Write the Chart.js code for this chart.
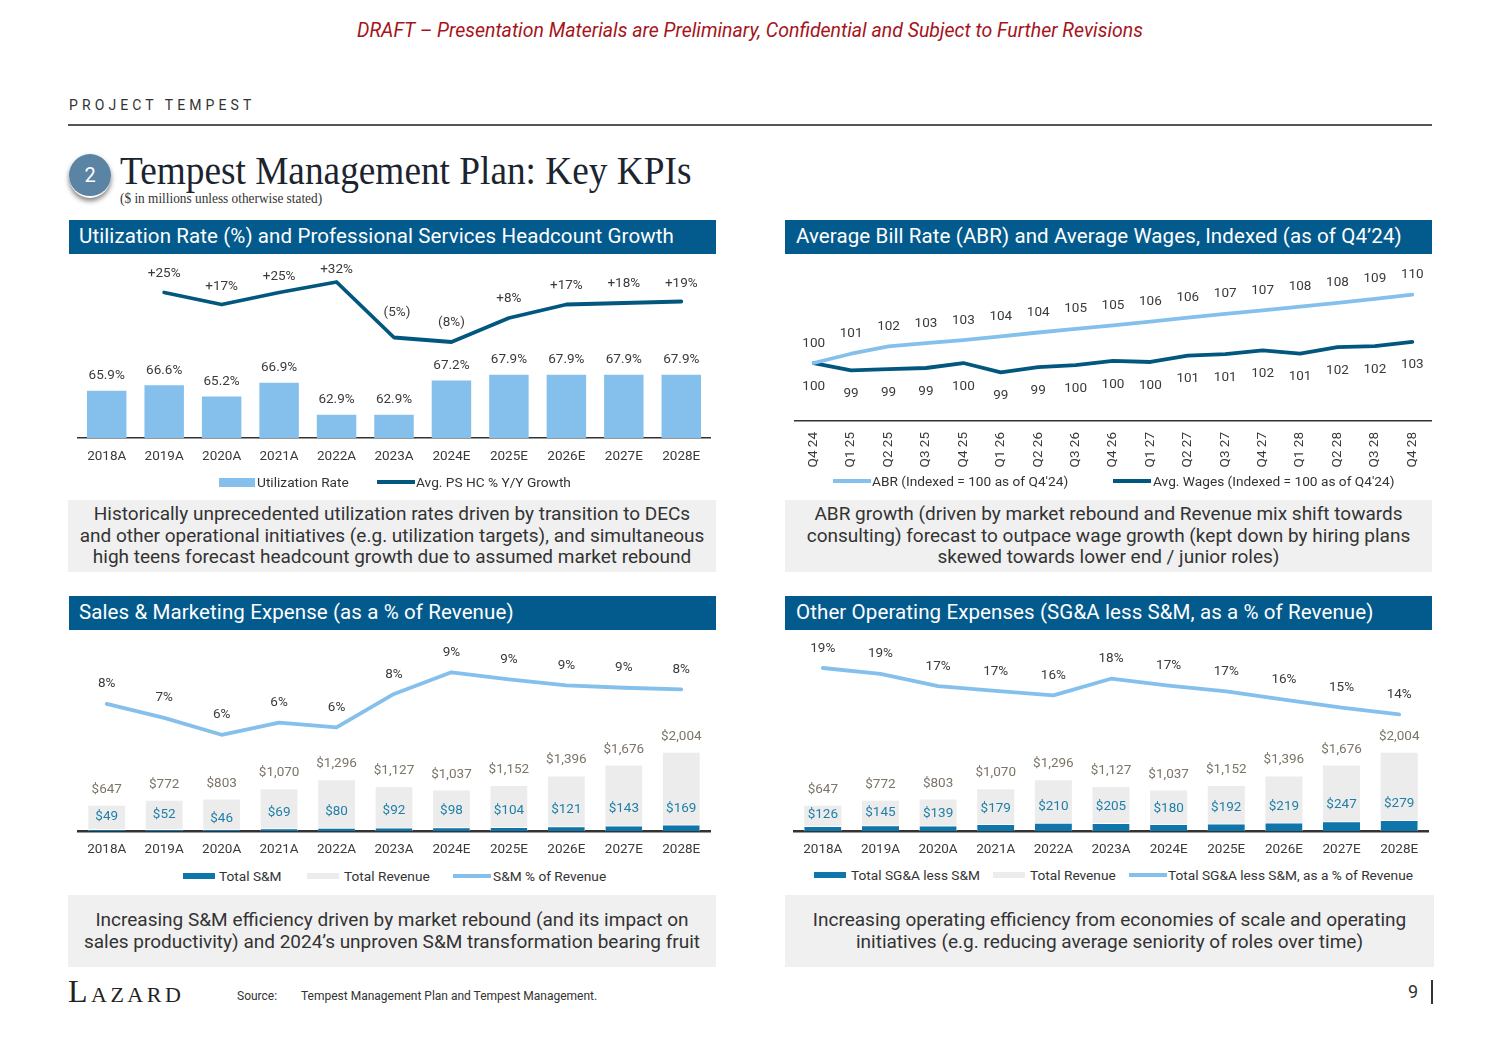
<!DOCTYPE html>
<html>
<head>
<meta charset="utf-8">
<title>Tempest Management Plan: Key KPIs</title>
<script src="https://cdn.jsdelivr.net/npm/chart.js@4"></script>
<style>
    html, body { margin: 0; padding: 0; background: #fff; }
    #page { position: relative; width: 1500px; height: 1060px; overflow: hidden; font-family: Roboto, sans-serif; color: #333; }
    #page > * { position: absolute; }
    canvas { position: absolute; }
    .draft { left: 0; width: 1500px; top: 19px; text-align: center; font-style: italic; font-size: 19.5px; color: #a5141c; }
    .project { left: 69px; top: 97px; font-size: 14px; letter-spacing: 4.1px; color: #333; }
    .rule { left: 68px; top: 124px; width: 1364px; height: 1.5px; background: #555; }
    .badge { left: 69px; top: 154px; width: 42px; height: 42px; border-radius: 50%; background: #5b83a3; border-bottom: 2px solid #fff; box-shadow: 0 3px 5px rgba(0,0,0,.5); color: #fff; font-size: 20px; line-height: 42px; text-align: center; }
    .title { left: 120px; top: 146px; font-family: "Liberation Serif", serif; font-size: 41px; color: #1c2430; white-space: nowrap; transform: scaleX(.91); transform-origin: left; }
    .sub { left: 120px; top: 191px; font-family: "Liberation Serif", serif; font-size: 14px; color: #333; white-space: nowrap; transform: scaleX(.95); transform-origin: left; }
    .head { height: 34px; line-height: 33px; background: #035a8d; color: #fff; font-size: 20.5px; letter-spacing: .1px; padding-left: 10px; box-sizing: border-box; white-space: nowrap; }
    .cap { background: #f0f0f0; text-align: center; font-size: 19px; line-height: 21.5px; box-sizing: border-box; color: #333; }
    .lg { font-size: 13.7px; white-space: nowrap; color: #333; height: 16px; line-height: 16px; }
    .sw { height: 9px; }
    .logo { left: 68px; top: 973px; font-family: "Liberation Serif", serif; font-size: 32px; font-variant: small-caps; letter-spacing: 3.5px; color: #222; }
    .src { font-size: 12px; color: #333; top: 989px; white-space: nowrap; }
    .num { left: 1408px; top: 981px; font-size: 18px; color: #333; }
    .bar9 { left: 1431px; top: 980px; width: 1.5px; height: 24px; background: #333; }
</style>
</head>
<body>
<div id="page">
    <div class="draft">DRAFT – Presentation Materials are Preliminary, Confidential and Subject to Further Revisions</div>
    <div class="project">PROJECT TEMPEST</div>
    <div class="rule"></div>
    <div class="badge">2</div>
    <div class="title">Tempest Management Plan: Key KPIs</div>
    <div class="sub">($ in millions unless otherwise stated)</div>

    <div class="head" style="left:69px;top:220px;width:647px">Utilization Rate (%) and Professional Services Headcount Growth</div>
    <div class="head" style="left:785px;top:220px;width:647px;padding-left:11px">Average Bill Rate (ABR) and Average Wages, Indexed (as of Q4’24)</div>
    <div class="head" style="left:69px;top:596px;width:647px">Sales &amp; Marketing Expense (as a % of Revenue)</div>
    <div class="head" style="left:785px;top:596px;width:647px;padding-left:11px">Other Operating Expenses (SG&amp;A less S&amp;M, as a % of Revenue)</div>

    <canvas id="utilChart" width="652" height="244" style="left:68px;top:256px"></canvas>
    <canvas id="abrChart" width="652" height="219" style="left:784px;top:256px"></canvas>
    <canvas id="smChart" width="652" height="230" style="left:68px;top:632px"></canvas>
    <canvas id="sgaChart" width="652" height="230" style="left:784px;top:632px"></canvas>

    <div class="cap" style="left:68px;top:500px;width:648px;height:72px;padding-top:3px">Historically unprecedented utilization rates driven by transition to DECs<br>and other operational initiatives (e.g. utilization targets), and simultaneous<br>high teens forecast headcount growth due to assumed market rebound</div>
    <div class="cap" style="left:785px;top:500px;width:647px;height:72px;padding-top:3px">ABR growth (driven by market rebound and Revenue mix shift towards<br>consulting) forecast to outpace wage growth (kept down by hiring plans<br>skewed towards lower end / junior roles)</div>
    <div class="cap" style="left:68px;top:895px;width:648px;height:72px;padding-top:14px">Increasing S&amp;M efficiency driven by market rebound (and its impact on<br>sales productivity) and 2024’s unproven S&amp;M transformation bearing fruit</div>
    <div class="cap" style="left:785px;top:895px;width:649px;height:72px;padding-top:14px">Increasing operating efficiency from economies of scale and operating<br>initiatives (e.g. reducing average seniority of roles over time)</div>

    <div class="logo">Lazard</div>
    <div class="src" style="left:237px">Source:</div>
    <div class="src" style="left:301px">Tempest Management Plan and Tempest Management.</div>
    <div class="num">9</div>
    <div class="bar9"></div>
</div>

<script>
// Categories
const years = ["2018A", "2019A", "2020A", "2021A", "2022A", "2023A", "2024E", "2025E", "2026E", "2027E", "2028E"];
const quarters = ["Q4 24", "Q1 25", "Q2 25", "Q3 25", "Q4 25", "Q1 26", "Q2 26", "Q3 26", "Q4 26", "Q1 27", "Q2 27", "Q3 27", "Q4 27", "Q1 28", "Q2 28", "Q3 28", "Q4 28"];

// Utilization chart
const utilizationRate = [65.9, 66.6, 65.2, 66.9, 62.9, 62.9, 67.2, 67.9, 67.9, 67.9, 67.9];
const headcountGrowth = [null, 25, 17, 25, 32, -5, -8, 8, 17, 18, 19];
const headcountLabels = ["", "+25%", "+17%", "+25%", "+32%", "(5%)", "(8%)", "+8%", "+17%", "+18%", "+19%"];

// ABR chart
const abrIndex = [100, 101.36, 102.43, 102.9, 103.35, 103.9, 104.47, 105, 105.5, 106.07, 106.65, 107.2, 107.7, 108.25, 108.8, 109.4, 110];
const abrLabels = ["100", "101", "102", "103", "103", "104", "104", "105", "105", "106", "106", "107", "107", "108", "108", "109", "110"];
const wagesIndex = [100, 98.93, 99.1, 99.27, 100, 98.64, 99.4, 99.7, 100.3, 100.15, 101.07, 101.3, 101.85, 101.36, 102.33, 102.48, 103.1];
const wagesLabels = ["100", "99", "99", "99", "100", "99", "99", "100", "100", "100", "101", "101", "102", "101", "102", "102", "103"];

// Expense charts
const totalRevenue = [647, 772, 803, 1070, 1296, 1127, 1037, 1152, 1396, 1676, 2004];
const totalSM = [49, 52, 46, 69, 80, 92, 98, 104, 121, 143, 169];
const smPercent = [7.57, 6.74, 5.73, 6.45, 6.17, 8.16, 9.45, 9.03, 8.67, 8.53, 8.43];
const totalSGA = [126, 145, 139, 179, 210, 205, 180, 192, 219, 247, 279];
const sgaPercent = [19.47, 18.78, 17.31, 16.73, 16.2, 18.19, 17.36, 16.67, 15.69, 14.74, 13.92];

// Label offsets from the marks, in px
const headcountLabelDy = [0, -20, -19, -17, -13, -25.5, -20, -20, -20, -20, -19];
const headcountLabelDx = [0, 0, 0, 0, 0, 3, 0, 0, 0, 0, 0];
const smLabelDy = [-13, -14.7, -11, -16, -17, -17, -17, -17, -17, -17.4, -16.7];
const sgaLabelDy = [-12, -13.3, -12.6, -16.3, -16.8, -17, -16.3, -16.5, -16.4, -17.3, -17.1];

const LIGHT_BLUE = "#85c0ec";
const DARK_BLUE = "#02577f";
const MID_BLUE = "#0e76ab";
const GREY_BAR = "#ececec";
const TEXT = "#3a3a3a";
const BROWN_TEXT = "#7c7568";
const TEAL_TEXT = "#1f7fa6";

const dollars = v => "$" + v.toLocaleString("en-US");
const percent = v => Math.round(v) + "%";

Chart.defaults.font.family = "Roboto, sans-serif";
Chart.defaults.font.size = 13.5;
Chart.defaults.color = TEXT;

// Chart.js has no data labels of its own, so draw them from the element positions
const valueLabels = {
    id: "valueLabels",
    afterDatasetsDraw(chart, args, opts) {
        const ctx = chart.ctx;
        ctx.save();
        ctx.font = "13.5px Roboto, sans-serif";
        ctx.textAlign = "center";
        ctx.textBaseline = "middle";
        (opts.sets || []).forEach(set => {
            const meta = chart.getDatasetMeta(set.dataset);
            meta.data.forEach((el, i) => {
                if (!set.text[i]) return;
                const dy = Array.isArray(set.dy) ? set.dy[i] : set.dy;
                const dx = set.dx ? set.dx[i] : 0;
                ctx.fillStyle = set.color;
                ctx.fillText(set.text[i], el.x + dx, el.y + dy + 0.7);
            });
        });
        ctx.restore();
    }
};

function xAxis(axisWidth, rotate, axisHeight) {
    return {
        offset: true,
        grid: { display: false },
        border: { display: true, color: "#333", width: axisWidth },
        ticks: { padding: 3, autoSkip: false, maxRotation: rotate, minRotation: rotate, color: TEXT },
        afterFit: s => { s.height = axisHeight; }
    };
}

function hiddenAxis(min, max, position) {
    return { display: false, min, max, position: position || "left", grid: { display: false } };
}

function lineSet(label, data, color, yAxisID) {
    return {
        type: "line", label, data, yAxisID,
        borderColor: color, backgroundColor: color,
        borderWidth: 3.8, pointRadius: 0, tension: 0,
        borderCapStyle: "round", borderJoinStyle: "round", order: 0
    };
}

function baseOptions(scales, sets, padL, padR) {
    return {
        responsive: false,
        animation: false,
        layout: { autoPadding: false, padding: { left: padL, right: padR, top: 0, bottom: 0 } },
        plugins: { legend: { display: false }, tooltip: { enabled: false }, valueLabels: { sets } },
        scales
    };
}

// Utilization Rate and headcount growth
new Chart(document.getElementById("utilChart"), {
    type: "bar",
    plugins: [valueLabels],
    data: {
        labels: years,
        datasets: [
            { label: "Utilization Rate", data: utilizationRate, backgroundColor: LIGHT_BLUE, barPercentage: 0.687, categoryPercentage: 1, yAxisID: "y", order: 1 },
            lineSet("Avg. PS HC % Y/Y Growth", headcountGrowth, DARK_BLUE, "y1")
        ]
    },
    options: baseOptions(
        { x: xAxis(1.5, 0, 62), y: hiddenAxis(60, 82.75), y1: hiddenAxis(-72, 49.33, "right") },
        [
            { dataset: 0, text: utilizationRate.map(v => v.toFixed(1) + "%"), color: TEXT, dy: -15.7 },
            { dataset: 1, text: headcountLabels, color: TEXT, dy: headcountLabelDy, dx: headcountLabelDx }
        ],
        10, 10
    )
});

// ABR and wages
new Chart(document.getElementById("abrChart"), {
    type: "line",
    plugins: [valueLabels],
    data: {
        labels: quarters,
        datasets: [
            lineSet("ABR (Indexed = 100 as of Q4'24)", abrIndex, LIGHT_BLUE, "y"),
            lineSet("Avg. Wages (Indexed = 100 as of Q4'24)", wagesIndex, DARK_BLUE, "y")
        ]
    },
    options: baseOptions(
        { x: xAxis(1.5, 90, 54), y: hiddenAxis(91.51, 115.67) },
        [
            { dataset: 0, text: abrLabels, color: TEXT, dy: -20.5 },
            { dataset: 1, text: wagesLabels, color: TEXT, dy: 22.5 }
        ],
        11, 5
    )
});

function expenseChart(canvasId, expense, pct, expenseLabel, pctLabel, labelDy, barWidth, pctMax, padL, padR) {
    new Chart(document.getElementById(canvasId), {
        type: "bar",
        plugins: [valueLabels],
        data: {
            labels: years,
            datasets: [
                { label: "Total Revenue", data: totalRevenue, backgroundColor: GREY_BAR, grouped: false, barPercentage: barWidth, categoryPercentage: 1, yAxisID: "y", order: 2 },
                { label: expenseLabel, data: expense, backgroundColor: MID_BLUE, borderColor: "#fff", borderWidth: { top: 1 }, grouped: false, barPercentage: barWidth, categoryPercentage: 1, yAxisID: "y", order: 1 },
                lineSet(pctLabel, pct, LIGHT_BLUE, "y1")
            ]
        },
        options: baseOptions(
            { x: xAxis(2.5, 0, 31), y: hiddenAxis(0, 5090), y1: hiddenAxis(0, pctMax, "right") },
            [
                { dataset: 0, text: totalRevenue.map(dollars), color: BROWN_TEXT, dy: -17 },
                { dataset: 1, text: expense.map(dollars), color: TEAL_TEXT, dy: labelDy },
                { dataset: 2, text: pct.map(percent), color: TEXT, dy: -20.5 }
            ],
            padL, padR
        )
    });
}

expenseChart("smChart", totalSM, smPercent, "Total S&M", "S&M % of Revenue", smLabelDy, 0.64, 11.85, 10, 10);
expenseChart("sgaChart", totalSGA, sgaPercent, "Total SG&A less S&M", "Total SG&A less S&M, as a % of Revenue", sgaLabelDy, 0.643, 23.77, 10, 8);

// Legends: [swatch left, swatch width, swatch height, colour, text left, text]
const legends = [
    { y: 482, items: [[219, 36, 9, LIGHT_BLUE, 257, "Utilization Rate"], [377, 38, 3.5, DARK_BLUE, 416, "Avg. PS HC % Y/Y Growth"]] },
    { y: 481, items: [[833, 38, 3.5, LIGHT_BLUE, 872, "ABR (Indexed = 100 as of Q4'24)"], [1113, 38, 3.5, DARK_BLUE, 1153, "Avg. Wages (Indexed = 100 as of Q4'24)"]] },
    { y: 876, items: [[183, 32, 6, MID_BLUE, 219, "Total S&M"], [307, 32, 6, GREY_BAR, 344, "Total Revenue"], [453, 38, 3.5, LIGHT_BLUE, 493, "S&M % of Revenue"]] },
    { y: 875, items: [[814, 32, 6, MID_BLUE, 851, "Total SG&A less S&M"], [993, 32, 6, GREY_BAR, 1030, "Total Revenue"], [1129, 38, 3.5, LIGHT_BLUE, 1168, "Total SG&A less S&M, as a % of Revenue"]] }
];

const page = document.getElementById("page");
legends.forEach(legend => {
    legend.items.forEach(([sx, sw, sh, color, tx, text]) => {
        const swatch = document.createElement("div");
        swatch.className = "sw";
        swatch.style.cssText = `left:${sx}px;top:${legend.y - sh / 2}px;width:${sw}px;height:${sh}px;background:${color}`;
        page.appendChild(swatch);
        const label = document.createElement("div");
        label.className = "lg";
        label.textContent = text;
        label.style.cssText = `left:${tx}px;top:${legend.y - 8}px`;
        page.appendChild(label);
    });
});
</script>
</body>
</html>
